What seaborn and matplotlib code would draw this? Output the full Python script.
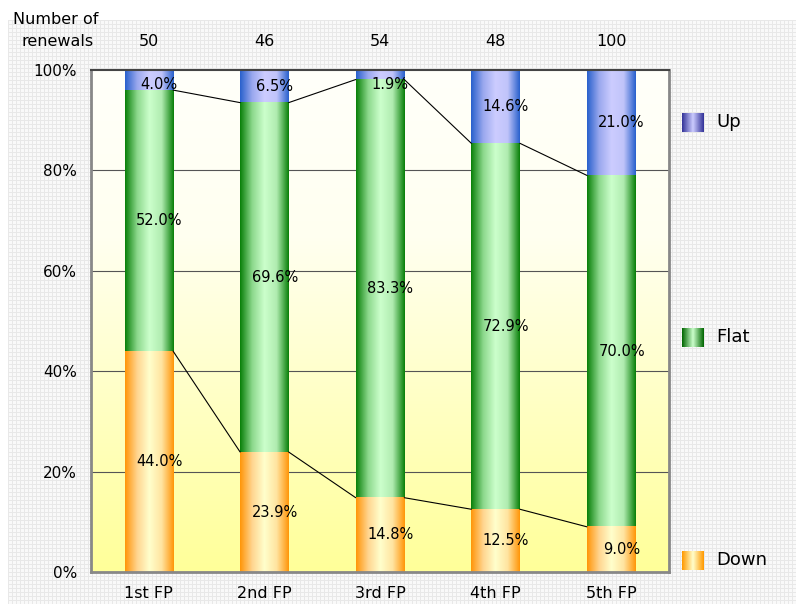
import numpy as np
import pandas as pd
import matplotlib
matplotlib.use("Agg")
import matplotlib.pyplot as plt
import seaborn as sns
from matplotlib.colors import LinearSegmentedColormap

categories = ["1st FP", "2nd FP", "3rd FP", "4th FP", "5th FP"]
renewals = [50, 46, 54, 48, 100]
down = [44.0, 23.9, 14.8, 12.5, 9.0]
flat = [52.0, 69.6, 83.3, 72.9, 70.0]
up = [4.0, 6.5, 1.9, 14.6, 21.0]
series_names = ["Up", "Flat", "Down"]
yticks = [0, 20, 40, 60, 80, 100]
ytick_labels = ["0%", "20%", "40%", "60%", "80%", "100%"]

sns.set_style("white")
plt.rcParams['font.family'] = ['DejaVu Sans']
plt.rcParams['text.color'] = 'black'
plt.rcParams['xtick.color'] = 'black'
plt.rcParams['ytick.color'] = 'black'

W, H = 796, 612
fig = plt.figure(figsize=(W / 100, H / 100), dpi=100)

# mesh background
bg = fig.add_axes([8 / W, (H - 604) / H, (W - 8) / W, (604 - 20) / H])
bh, bw = 584, 788
pat = np.full((bh, bw, 3), 0.98)
pat[::4, :, :] = 0.91
pat[:, ::4, :] = 0.91
bg.imshow(pat, aspect='auto', interpolation='nearest')
bg.axis('off')

ax = fig.add_axes([91 / W, (H - 572) / H, (669 - 91) / W, (572 - 70) / H])

# axes background gradient
grad = np.linspace(0, 1, 256).reshape(-1, 1)
bgcmap = LinearSegmentedColormap.from_list("bgc", ["#ffff99", "#ffffc4", "#fffff0", "#fffffa"])
ax.imshow(grad, extent=[-0.5, 4.5, 0, 100], origin='lower', cmap=bgcmap,
          aspect='auto', zorder=0)

df = pd.DataFrame({"cat": categories, "down": down, "flat": flat, "up": up})
df["c_down"] = df["down"]
df["c_flat"] = df["down"] + df["flat"]
df["c_up"] = df["c_flat"] + df["up"]

layers = [
    ("c_up", ["#2860cc", "#9aa8ee", "#ccccff", "#c0c4fa", "#2860cc"]),
    ("c_flat", ["#087f08", "#8cd88c", "#ccffcc", "#b0ecb0", "#087f08"]),
    ("c_down", ["#ff9508", "#ffd590", "#ffffcc", "#ffe4a0", "#ff9508"]),
]
z = 2
for col, cols in layers:
    n_before = len(ax.patches)
    sns.barplot(data=df, x="cat", y=col, ax=ax, width=0.42, color="white",
                linewidth=0, zorder=z)
    cmap = LinearSegmentedColormap.from_list(col, cols)
    hgrad = np.linspace(0, 1, 256).reshape(1, -1)
    for p in ax.patches[n_before:]:
        x0, y0 = p.get_x(), p.get_y()
        w, h = p.get_width(), p.get_height()
        p.set_visible(False)
        ax.imshow(hgrad, extent=[x0, x0 + w, y0, y0 + h], cmap=cmap,
                  aspect='auto', zorder=z + 0.5)
    z += 1

ax.set_xlim(-0.5, 4.5)
ax.set_ylim(0, 100)

# gridlines
for yv in yticks[1:-1]:
    ax.axhline(yv, color="#555555", lw=0.8, zorder=1)

# connecting lines
bw_ = 0.42
cd = df["c_down"].values
cf = df["c_flat"].values
for i in range(len(categories) - 1):
    ax.plot([i + bw_ / 2, i + 1 - bw_ / 2], [cd[i], cd[i + 1]], color="black", lw=0.8, zorder=10)
    ax.plot([i + bw_ / 2, i + 1 - bw_ / 2], [cf[i], cf[i + 1]], color="black", lw=0.8, zorder=10)

# value labels
for i in range(len(categories)):
    segs = [(0, down[i]), (cd[i], flat[i]), (cf[i], up[i])]
    for k, (base, val) in enumerate(segs):
        yy = base + val / 2
        if k == 2:
            yy = min(yy, 97.2)
        ax.text(i + 0.09, yy, f"{val:.1f}%", ha="center", va="center",
                fontsize=10.5, color="black", zorder=12)

ax.set_yticks(yticks)
ax.set_yticklabels(ytick_labels, fontsize=11)
ax.set_xticks(range(len(categories)))
ax.set_xticklabels(categories, fontsize=11.5)
ax.tick_params(axis='both', length=0, pad=10, labelcolor='black')
ax.set_xlabel("")
ax.set_ylabel("")
for s in ["left", "bottom", "right"]:
    ax.spines[s].set_color("#888888")
    ax.spines[s].set_linewidth(2)
ax.spines["top"].set_color("#444444")
ax.spines["top"].set_linewidth(1.5)
for sp in ax.spines.values():
    sp.set_zorder(20)

# top renewals labels
fig.text(56 / W, 1 - 20 / H, "Number of", ha="center", va="center", fontsize=11.5, color="black")
fig.text(58 / W, 1 - 41 / H, "renewals", ha="center", va="center", fontsize=11.5, color="black")
for i, n in enumerate(renewals):
    xd = ax.transData.transform((i, 0))[0] / W
    fig.text(xd, 1 - 41 / H, str(n), ha="center", va="center", fontsize=11.5, color="black")

# legend
leg_items = [
    ("Up", 122, ["#333399", "#ccccff", "#333399"]),
    ("Flat", 337, ["#006600", "#ccffcc", "#006600"]),
    ("Down", 560, ["#ff9900", "#ffffcc", "#ff9900"]),
]
for name, yp, cols in leg_items:
    lax = fig.add_axes([682 / W, 1 - (yp + 10) / H, 22 / W, 19 / H])
    lax.imshow(np.linspace(0, 1, 64).reshape(1, -1), aspect='auto',
               cmap=LinearSegmentedColormap.from_list(name, cols))
    lax.axis('off')
    fig.text(716 / W, 1 - yp / H, name, ha="left", va="center", fontsize=13, color="black")

fig.savefig("out.png", dpi=100)
